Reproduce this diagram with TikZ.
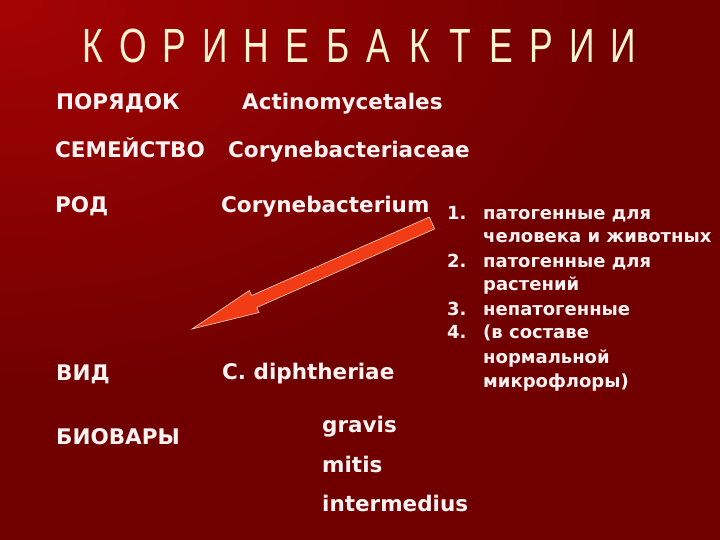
\documentclass[tikz,border=0pt]{standalone}
\usepackage{fontspec}
\setmainfont{DejaVu Sans}
\newfontfamily\titlefont{Liberation Sans}
\usetikzlibrary{calc}
\definecolor{bgdark}{HTML}{700000}
\definecolor{bglight}{HTML}{A50303}
\definecolor{txt}{HTML}{FFF2F2}
\definecolor{ttl}{HTML}{FFF3D2}
\definecolor{arrowfill}{HTML}{F23C16}
\definecolor{arrowedge}{HTML}{FFD8C0}
\tikzset{
  lab/.style={anchor=base west, inner sep=0pt, text=txt, font=\bfseries\fontsize{21.5}{25}\selectfont},
  lst/.style={anchor=base west, inner sep=0pt, text=txt, font=\bfseries\fontsize{18}{22}\selectfont},
  ttlletter/.style={anchor=base, inner sep=0pt, text=ttl, font=\titlefont\fontsize{48}{52}\selectfont},
  bigarrow/.style={fill=arrowfill, draw=arrowedge, line width=0.6pt, line join=miter}
}
\begin{document}
\begin{tikzpicture}[x=1pt,y=-1pt]
\useasboundingbox (0,0) rectangle (720,540);
\fill[bgdark] (0,0) rectangle (720,540);
\begin{scope}
  \clip (0,0) rectangle (720,540);
  \shade[inner color=bglight, outer color=bgdark] (0,0) ellipse (640 and 400);
\end{scope}

% title
\foreach \l [count=\i from 0] in {К,О,Р,И,Н,Е,Б,А,К,Т,Е,Р,И,И}
  \node[ttlletter, name=t\i] at (93+40.8*\i,63) {\scalebox{0.74}[1]{\l}};

% left column
\node[lab] (ord) at (56,110) {ПОРЯДОК};
\node[lab] (ordv) at (242,110) {Actinomycetales};
\node[lab] (fam) at (55,158) {СЕМЕЙСТВО};
\node[lab] (famv) at (228,158) {Corynebacteriaceae};
\node[lab] (gen) at (55,212) {РОД};
\node[lab] (genv) at (221,212) {Corynebacterium};
\node[lab] (sp) at (56,380) {ВИД};
\node[lab] (spv) at (222,379) {C. diphtheriae};
\node[lab] (bio) at (56,444) {БИОВАРЫ};
\node[lab] (b1) at (322,432) {gravis};
\node[lab] (b2) at (322,472) {mitis};
\node[lab] (b3) at (322,511) {intermedius};

% list
\node[lst] (n1) at (447,219) {1.};
\node[lst] (l1) at (483,219) {патогенные для};
\node[lst] (l1b) at (483,243) {человека и животных};
\node[lst] (n2) at (447,267) {2.};
\node[lst] (l2) at (483,267) {патогенные для};
\node[lst] (l2b) at (483,290) {растений};
\node[lst] (n3) at (447,315) {3.};
\node[lst] (l3) at (483,315) {непатогенные};
\node[lst] (n4) at (447,338) {4.};
\node[lst] (l4) at (483,338) {(в составе};
\node[lst] (l4b) at (483,363) {нормальной};
\node[lst] (l4c) at (483,387) {микрофлоры)};

% arrow
\coordinate (tip) at (192,329);
\coordinate (tail) at (432,223);
\path ($(tip)!68pt!(tail)$) coordinate (hb);
\path ($(hb)!12pt!90:(tail)$) coordinate (hb1)
      ($(hb)!12pt!-90:(tail)$) coordinate (hb2)
      ($(hb)!6.5pt!90:(tail)$) coordinate (hs1)
      ($(hb)!6.5pt!-90:(tail)$) coordinate (hs2)
      ($(tail)!6.5pt!-90:(tip)$) coordinate (ts1)
      ($(tail)!6.5pt!90:(tip)$) coordinate (ts2);
\draw[bigarrow] (tip) -- (hb1) -- (hs1) -- (ts1) -- (ts2) -- (hs2) -- (hb2) -- cycle;
\end{tikzpicture}
\end{document}
